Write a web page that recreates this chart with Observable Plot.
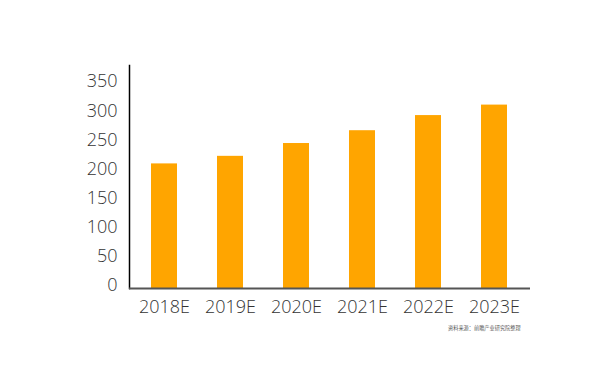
<!DOCTYPE html>
<html>
<head>
<meta charset="utf-8">
<script src="https://cdn.jsdelivr.net/npm/d3@7"></script>
<script src="https://cdn.jsdelivr.net/npm/@observablehq/plot@0.6"></script>
<style>
  html, body { margin: 0; padding: 0; background: #fff; }
  #wrap { position: relative; width: 600px; height: 377px; }
  #caption { position: absolute; left: 448px; top: 324px; font-size: 5.2px; color: #555;
    font-family: "Noto Sans CJK SC", sans-serif; white-space: nowrap; }
</style>
</head>
<body>
<div id="wrap"><div id="caption"></div></div>
<script>
const categories = ["2018E", "2019E", "2020E", "2021E", "2022E", "2023E"];
const values = [214, 227, 249, 271, 297, 315];
const yTicks = [0, 50, 100, 150, 200, 250, 300, 350];
const caption = "资料来源：前瞻产业研究院整理";

const data = categories.map((c, i) => ({ year: c, value: values[i] }));

const chart = Plot.plot({
  width: 600,
  height: 377,
  marginTop: 65,
  marginBottom: 89,
  marginLeft: 129,
  marginRight: 70,
  style: { fontFamily: "'Open Sans', sans-serif", fontSize: "18px", color: "#333", background: "#fff" },
  x: { domain: categories, paddingInner: 0.6, paddingOuter: 0.3, label: null },
  y: { domain: [0, 383], label: null },
  marks: [
    Plot.barY(data, { x: "year", y: "value", fill: "#ffa500" }),
    Plot.frame({ anchor: "left", stroke: "#000", strokeWidth: 1.5 }),
    Plot.ruleY([0], { stroke: "#555", strokeWidth: 2 }),
    Plot.axisY({ ticks: yTicks, tickSize: 0, tickPadding: 12, fontSize: 18, fontWeight: 300, fill: "#333", dy: -3, label: null }),
    Plot.axisX({ tickSize: 0, tickPadding: 12, fontSize: 18, fontWeight: 300, fill: "#333", label: null })
  ]
});
document.getElementById("wrap").prepend(chart);
document.getElementById("caption").textContent = caption;
</script>
</body>
</html>
